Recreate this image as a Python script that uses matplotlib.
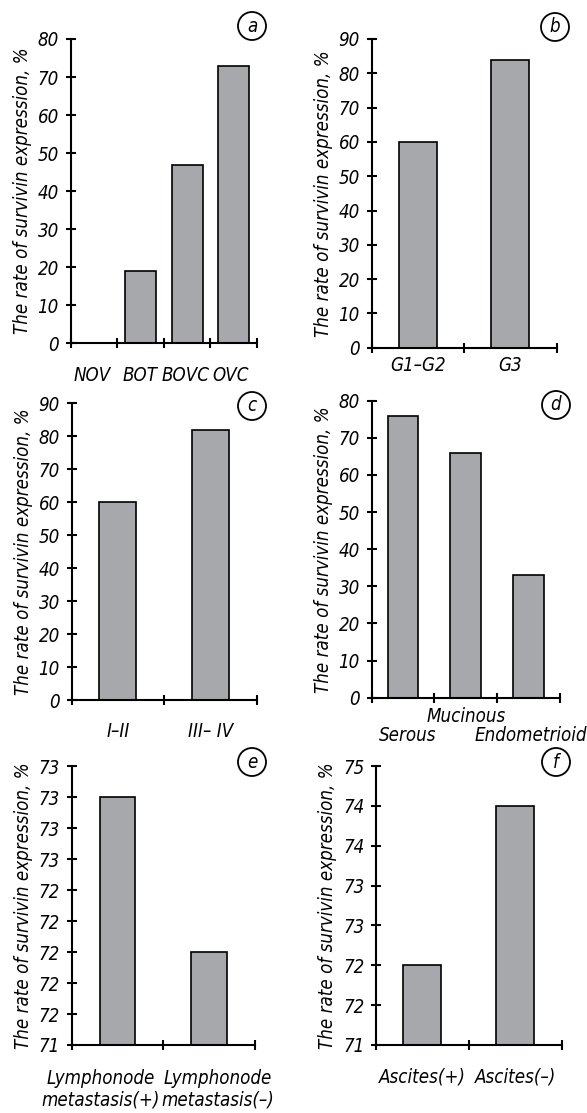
#!/usr/bin/env python
# -*- coding: utf8 -*-
import math
import matplotlib
matplotlib.use('Agg')
import matplotlib.pyplot as plt
from matplotlib.patches import Ellipse
from matplotlib.ticker import FixedLocator, FuncFormatter
from matplotlib.transforms import ScaledTranslation

plt.rcParams['font.family'] = ['DejaVu Sans']
plt.rcParams['font.style'] = 'italic'
plt.rcParams['font.stretch'] = 'condensed'

# panel data
a_cats = ['NOV', 'BOT', 'BOVC', 'OVC']
a_vals = [0, 19, 47, 73]
b_cats = ['G1\u2013G2', 'G3']
b_vals = [60, 84]
c_cats = ['I\u2013II', 'III\u2013 IV']
c_vals = [60, 82]
d_cats = ['Serous', 'Mucinous', 'Endometrioid']
d_vals = [76, 66, 33]
e_cats = ['Lymphonode\nmetastasis(+)', 'Lymphonode\nmetastasis(\u2013)']
e_vals = [73.0, 72.0]
f_cats = ['Ascites(+)', 'Ascites(\u2013)']
f_vals = [72.0, 74.0]

# y ticks as in the original (labels rounded to integers)
a_yticks = [0, 10, 20, 30, 40, 50, 60, 70, 80]
b_yticks = [0, 10, 20, 30, 40, 50, 60, 70, 80, 90]
c_yticks = b_yticks
d_yticks = a_yticks
e_yticks = [71.4, 71.6, 71.8, 72.0, 72.2, 72.4, 72.6, 72.8, 73.0, 73.2]
f_yticks = [71.0, 71.5, 72.0, 72.5, 73.0, 73.5, 74.0, 74.5]

W, H = 587, 1113
FS = 13.4
BAR = '#a7a8ac'
YLABEL = 'The rate of survivin expression, %'


def round_half_up(v, pos):
    return '%d' % math.floor(v + 0.5 + 1e-9)


def panel(fig, box, cats, vals, yticks, width, xpad, shifts=None):
    l, r, t, b = box
    ax = fig.add_axes([l / W, 1 - b / H, (r - l) / W, (b - t) / H])
    n = len(cats)
    x = list(range(n))
    ax.bar(x, vals, width=width, color=BAR, edgecolor='black', linewidth=1.2,
           zorder=2)
    ax.set_xlim(-0.5, n - 0.5)
    ax.set_ylim(yticks[0], yticks[-1])
    ax.spines['top'].set_visible(False)
    ax.spines['right'].set_visible(False)
    for s in ('left', 'bottom'):
        ax.spines[s].set_linewidth(1.5)
        ax.spines[s].set_zorder(3)
    ax.set_yticks(yticks)
    ax.yaxis.set_major_formatter(FuncFormatter(round_half_up))
    ax.tick_params(axis='y', direction='inout', length=7, width=1.5,
                   pad=5, labelsize=FS)
    ax.set_xticks(x)
    ax.set_xticklabels(cats, fontsize=FS, linespacing=1.2)
    ax.tick_params(axis='x', which='major', length=0, pad=xpad)
    ax.xaxis.set_minor_locator(FixedLocator([i - 0.5 for i in range(n + 1)]))
    ax.tick_params(axis='x', which='minor', direction='inout', length=7,
                   width=1.5)
    ax.set_ylabel(YLABEL, fontsize=FS, labelpad=4)
    for tl in ax.get_xticklabels() + ax.get_yticklabels():
        tl.set_clip_on(False)
    # shift some category labels (in pixels) the way the original staggers them
    if shifts:
        for tick, (dx, dy) in zip(ax.xaxis.get_major_ticks(), shifts):
            lab = tick.label1
            lab.set_transform(lab.get_transform() + ScaledTranslation(
                dx / 100, -dy / 100, fig.dpi_scale_trans))
    return ax


def letter_mark(fig, cx, cy, letter):
    r = 14.0
    fig.patches.append(Ellipse((cx / W, 1 - cy / H), 2 * r / W, 2 * r / H,
                               transform=fig.transFigure, fill=False,
                               edgecolor='black', linewidth=1.3))
    fig.text(cx / W, 1 - cy / H, letter, ha='center', va='center',
             fontsize=FS)


fig = plt.figure(figsize=(W / 100, H / 100), dpi=100)

panel(fig, (70.7, 257, 39, 343.3), a_cats, a_vals, a_yticks, 0.67, 16,
      shifts=[(-2, 0), (-1, 0), (-2, 0), (-3, 0)])
panel(fig, (371.7, 556.7, 39, 347.7), b_cats, b_vals, b_yticks, 0.41, 6)
panel(fig, (71.7, 256.7, 403.3, 700), c_cats, c_vals, c_yticks, 0.40, 16)
panel(fig, (371.7, 560, 400.7, 697.7), d_cats, d_vals, d_yticks, 0.49, 7,
      shifts=[(5, 19), (0, 0), (2, 19)])
panel(fig, (71.7, 255, 766, 1045), e_cats, e_vals, e_yticks, 0.39, 17,
      shifts=[(-17, 0), (9, 0)])
panel(fig, (376, 561.7, 766, 1045), f_cats, f_vals, f_yticks, 0.41, 16)

letter_mark(fig, 252, 26, 'a')
letter_mark(fig, 555, 27, 'b')
letter_mark(fig, 252, 406, 'c')
letter_mark(fig, 556, 405, 'd')
letter_mark(fig, 252, 762, 'e')
letter_mark(fig, 556, 762, 'f')

fig.savefig('out.png', dpi=100)
